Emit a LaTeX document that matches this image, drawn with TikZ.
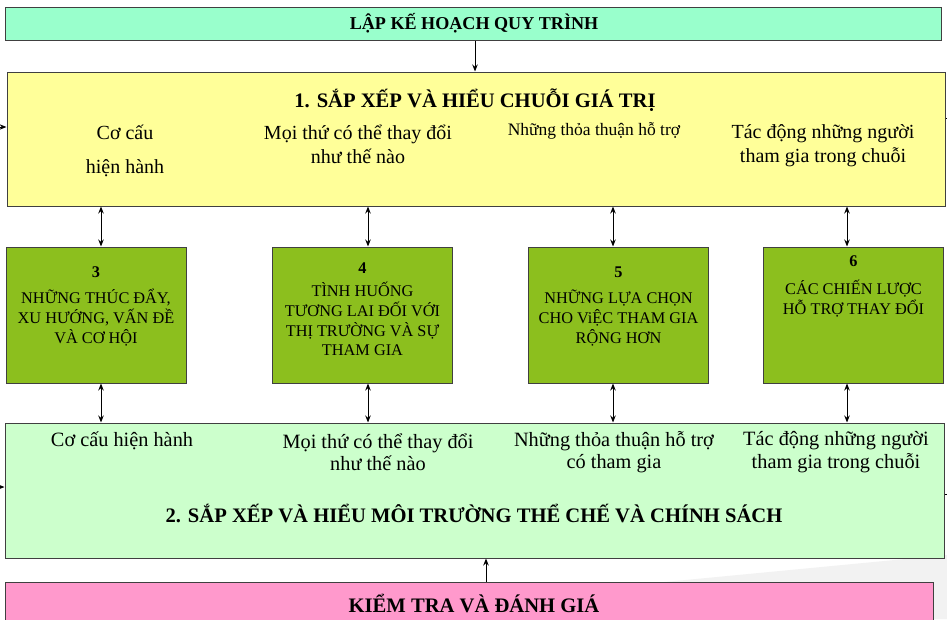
\documentclass[tikz,border=0pt]{standalone}
\usepackage{fontspec}
\setmainfont{Liberation Serif}
\usetikzlibrary{arrows.meta}
\definecolor{topc}{HTML}{99FFCC}
\definecolor{yel}{HTML}{FFFF99}
\definecolor{olivec}{HTML}{8CBF1E}
\definecolor{lgreen}{HTML}{CCFFCC}
\definecolor{pinkc}{HTML}{FF99CC}
\definecolor{edgec}{HTML}{404040}
\begin{document}
\begin{tikzpicture}[x=1pt,y=-1pt,
  box/.style={draw=edgec,line width=1pt,inner sep=0pt},
  gbox/.style={box,fill=olivec,minimum width=180pt,minimum height=136pt},
  txt/.style={inner sep=0pt,align=center,font=\fontsize{20}{24}\selectfont},
  ltxt/.style={inner sep=0pt,align=center,font=\fontsize{20.3}{22.5}\selectfont},
  gtxt/.style={inner sep=0pt,align=center,font=\fontsize{16.3}{19.8}\selectfont},
  ttl/.style={inner sep=0pt,align=center,font=\fontsize{20.6}{24}\selectfont\bfseries},
  arr/.style={line width=1pt,-{Stealth[length=7pt,width=5.5pt]}},
  darr/.style={line width=1pt,{Stealth[length=7pt,width=5.5pt]}-{Stealth[length=7pt,width=5.5pt]}}]
\clip (0,0) rectangle (947,619);
\fill[white] (0,0) rectangle (947,619);
\fill[gray!10] (560,592) -- (947,555) -- (947,619) -- (560,619) -- cycle;
% boxes
\node[box,fill=topc,minimum width=936pt,minimum height=33pt] (plan) at (473,23.5) {};
\node[box,fill=yel,minimum width=938pt,minimum height=134pt] (vc) at (476,139) {};
\node[gbox] (b3) at (96,315) {};
\node[gbox] (b4) at (362.5,315) {};
\node[gbox] (b5) at (618.5,315) {};
\node[gbox] (b6) at (853.5,315) {};
\node[box,fill=lgreen,minimum width=939pt,minimum height=135pt] (env) at (474.5,490.5) {};
\node[box,fill=pinkc,minimum width=928pt,minimum height=42pt] (eval) at (469,603) {};
% titles
\node[ttl,font=\fontsize{18.1}{22}\selectfont\bfseries] (tplan) at (474,23) {LẬP KẾ HOẠCH QUY TRÌNH};
\node[ttl] (tvc) at (475,100) {1. SẮP XẾP VÀ HIỂU CHUỖI GIÁ TRỊ};
\node[ttl] (tenv) at (474,513) {2. SẮP XẾP VÀ HIỂU MÔI TRƯỜNG THỂ CHẾ VÀ CHÍNH SÁCH};
\node[ttl] (teval) at (474,603) {KIỂM TRA VÀ ĐÁNH GIÁ};
% yellow texts
\node[txt,font=\fontsize{20}{34}\selectfont] (y1) at (125,151) {Cơ cấu\\hiện hành};
\node[txt] (y2) at (358,144) {Mọi thứ có thể thay đổi\\như thế nào};
\node[txt,font=\fontsize{17.5}{20}\selectfont] (y3) at (594,131) {Những thỏa thuận hỗ trợ};
\node[txt] (y4) at (823,145.5) {Tác động những người\\tham gia trong chuỗi};
% green box texts
\node[gtxt] (g3) at (96,306.5) {\textbf{3}\\[6pt]NHỮNG THÚC ĐẨY,\\XU HƯỚNG, VẤN ĐỀ\\VÀ CƠ HỘI};
\node[gtxt] (g4) at (362.5,309.5) {\textbf{4}\\[3pt]TÌNH HUỐNG\\TƯƠNG LAI ĐỐI VỚI\\THỊ TRƯỜNG VÀ SỰ\\THAM GIA};
\node[gtxt] (g5) at (618.5,306.5) {\textbf{5}\\[6pt]NHỮNG LỰA CHỌN\\CHO ViỆC THAM GIA\\RỘNG HƠN};
\node[gtxt] (g6) at (853.5,286.5) {\textbf{6}\\[8pt]CÁC CHIẾN LƯỢC\\HỖ TRỢ THAY ĐỔI};
% light green texts
\node[ltxt] (e1) at (122,441) {Cơ cấu hiện hành};
\node[ltxt] (e2) at (378,452) {Mọi thứ có thể thay đổi\\như thế nào};
\node[ltxt] (e3) at (614,452) {Những thỏa thuận hỗ trợ\\có tham gia};
\node[ltxt] (e4) at (836,452) {Tác động những người\\tham gia trong chuỗi};
% connectors
\draw[arr] ([xshift=2pt]plan.south) -- ([xshift=2pt]plan.south |- vc.north);
\draw[darr] ([xshift=5pt]b3.north) -- ([xshift=5pt]b3.north |- vc.south);
\draw[darr] ([xshift=5.5pt]b4.north) -- ([xshift=5.5pt]b4.north |- vc.south);
\draw[darr] ([xshift=-5.5pt]b5.north) -- ([xshift=-5.5pt]b5.north |- vc.south);
\draw[darr] ([xshift=-6.5pt]b6.north) -- ([xshift=-6.5pt]b6.north |- vc.south);
\draw[darr] ([xshift=5pt]b3.south) -- ([xshift=5pt]b3.south |- env.north);
\draw[darr] ([xshift=5.5pt]b4.south) -- ([xshift=5.5pt]b4.south |- env.north);
\draw[darr] ([xshift=-5.5pt]b5.south) -- ([xshift=-5.5pt]b5.south |- env.north);
\draw[darr] ([xshift=-6.5pt]b6.south) -- ([xshift=-6.5pt]b6.south |- env.north);
\draw[arr] ([xshift=17pt]eval.north) -- ([xshift=17pt]eval.north |- env.south);
\coordinate (l1) at (0,127);
\coordinate (l2) at (0,487);
\coordinate (r1) at (947,118);
\coordinate (r2) at (947,494);
\draw[arr] (l1) -- (l1 -| vc.west);
\draw[arr] (l2) -- (l2 -| env.west);
\draw[line width=1pt] (r1 -| vc.east) -- (r1);
\draw[line width=1pt] (r2 -| env.east) -- (r2);
\end{tikzpicture}
\end{document}
